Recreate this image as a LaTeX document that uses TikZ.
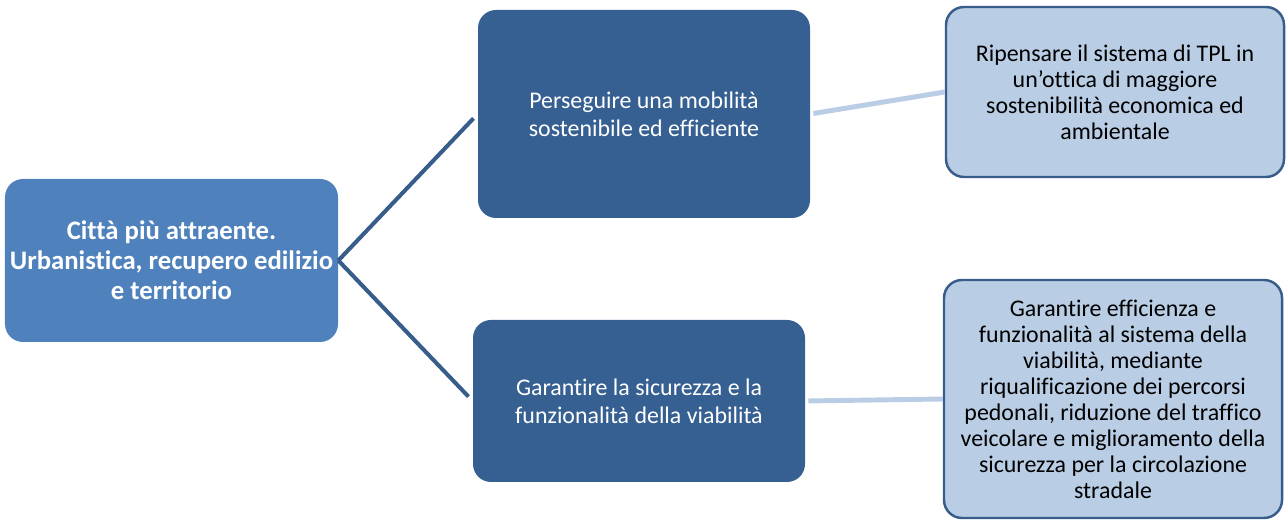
\documentclass[tikz,border=0pt]{standalone}
\usepackage{fontspec}
\setmainfont{Carlito}[Ligatures=NoCommon]
\usetikzlibrary{positioning}
\definecolor{rootblue}{HTML}{4F81BD}
\definecolor{darkblue}{HTML}{366092}
\definecolor{lineblue}{HTML}{385D8A}
\definecolor{paleblue}{HTML}{B9CDE5}

\begin{document}
\begin{tikzpicture}[
    box/.style={rectangle,rounded corners=0.36cm,align=center,inner sep=2pt},
    rootbox/.style={box,fill=rootblue,text=white,font=\fontsize{15.2}{17.2}\selectfont\bfseries,
      minimum width=6.66cm,minimum height=3.26cm},
    midbox/.style={box,fill=darkblue,text=white,font=\fontsize{13.6}{16}\selectfont,
      minimum width=6.64cm},
    leafbox/.style={box,fill=paleblue,draw=lineblue,line width=1.4pt,text=black,
      font=\fontsize{13.6}{14.8}\selectfont,minimum width=6.76cm},
    darklink/.style={draw=lineblue,line width=2.3pt,shorten >=0.12cm},
    palelink/.style={draw=paleblue,line width=2.8pt,shorten <=0.06cm}
  ]
    \useasboundingbox (0,0) rectangle (25.76,10.4);

    \node[rootbox] (root) at (3.43,5.19)
    {Città più attraente.\\Urbanistica, recupero edilizio\\e territorio};

    \node[midbox,minimum height=4.16cm] (mobility) at (12.88,8.12)
    {Perseguire una mobilità\\sostenibile ed efficiente};
    \node[midbox,minimum height=3.24cm] (safety) at (12.78,2.38)
    {Garantire la sicurezza e la\\funzionalità della viabilità};

    \node[leafbox,minimum height=3.4cm] (tpl) at (22.30,8.56)
    {Ripensare il sistema di TPL in\\un’ottica di maggiore\\sostenibilità economica ed\\ambientale};
    \node[leafbox,minimum height=4.76cm] (roads) at (22.26,2.42)
    {Garantire efficienza e\\funzionalità al sistema della\\viabilità, mediante\\riqualificazione dei percorsi\\pedonali, riduzione del traffico\\veicolare e miglioramento della\\sicurezza per la circolazione\\stradale};

    \foreach \m in {mobility,safety}
    \draw[darklink] (root.east) -- (\m.west);

    \draw[palelink] (mobility.east) -- (tpl.west);
    \draw[palelink] (safety.east) -- (roads.west);

  \end{tikzpicture}
\end{document}
